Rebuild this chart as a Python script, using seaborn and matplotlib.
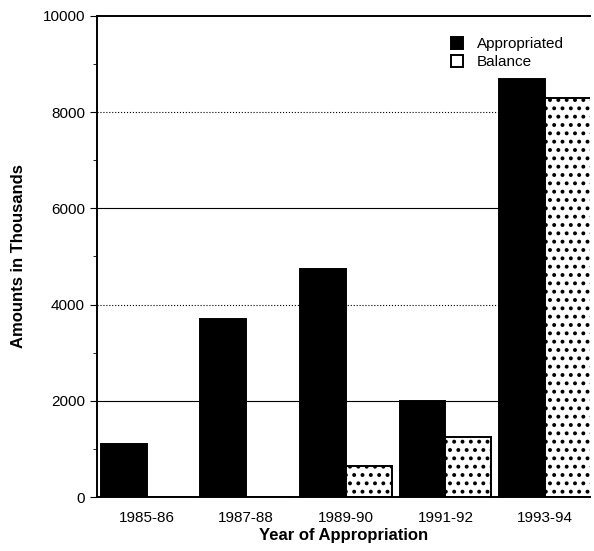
import matplotlib.pyplot as plt
import seaborn as sns
import pandas as pd
from matplotlib.ticker import MultipleLocator

years = ['1985-86', '1987-88', '1989-90', '1991-92', '1993-94']
appropriated = [1100, 3700, 4750, 2000, 8700]
balance = [0, 0, 650, 1250, 8300]

df = pd.DataFrame({
    'Year': years * 2,
    'Amount': appropriated + balance,
    'Type': ['Appropriated'] * len(years) + ['Balance'] * len(years),
})

sns.set_style('white')
plt.rcParams['font.family'] = ['Liberation Sans', 'DejaVu Sans']
plt.rcParams['text.color'] = 'black'
plt.rcParams['axes.labelcolor'] = 'black'
plt.rcParams['xtick.color'] = 'black'
plt.rcParams['ytick.color'] = 'black'
plt.rcParams['hatch.linewidth'] = 1.6

fig = plt.figure(figsize=(5.94, 5.51), dpi=100)
ax = fig.add_axes([0.163, 0.098, 0.83, 0.873])

# grid lines behind bars: solid at 2000/6000, dotted at 4000/8000
for y, ls in [(2000, '-'), (4000, ':'), (6000, '-'), (8000, ':')]:
    ax.axhline(y, color='black', lw=0.8, ls=ls, zorder=0)

sns.barplot(data=df, x='Year', y='Amount', hue='Type',
            palette={'Appropriated': 'black', 'Balance': 'white'},
            width=0.92, edgecolor='black', linewidth=1.4, ax=ax, zorder=2)

for patch, t in zip(ax.patches, df['Type']):
    if t == 'Balance':
        patch.set_hatch('..')

ax.set_ylim(0, 10000)
ax.set_xlim(-0.5, 4.45)
ax.yaxis.set_major_locator(MultipleLocator(2000))
ax.yaxis.set_minor_locator(MultipleLocator(1000))
ax.tick_params(axis='y', which='major', left=True, length=5, labelsize=11)
ax.tick_params(axis='y', which='minor', left=True, length=3)
ax.tick_params(axis='x', length=0, labelsize=11, pad=10)
for s in ['top', 'left', 'bottom']:
    ax.spines[s].set_color('black')
    ax.spines[s].set_linewidth(1.4)
ax.spines['right'].set_visible(False)

ax.set_xlabel('Year of Appropriation', fontsize=12, fontweight='bold', labelpad=2)
ax.set_ylabel('Amounts in Thousands', fontsize=12, fontweight='bold', labelpad=12)

handles, labels = ax.get_legend_handles_labels()
for h, l in zip(handles, labels):
    if l == 'Balance':
        h.set_hatch('')
leg = ax.legend(handles, labels, loc='upper right', bbox_to_anchor=(0.975, 0.985),
                frameon=False, fontsize=11, handlelength=0.8, handleheight=0.8,
                handletextpad=0.9, labelspacing=0.25)

fig.savefig('out.png', dpi=100)
